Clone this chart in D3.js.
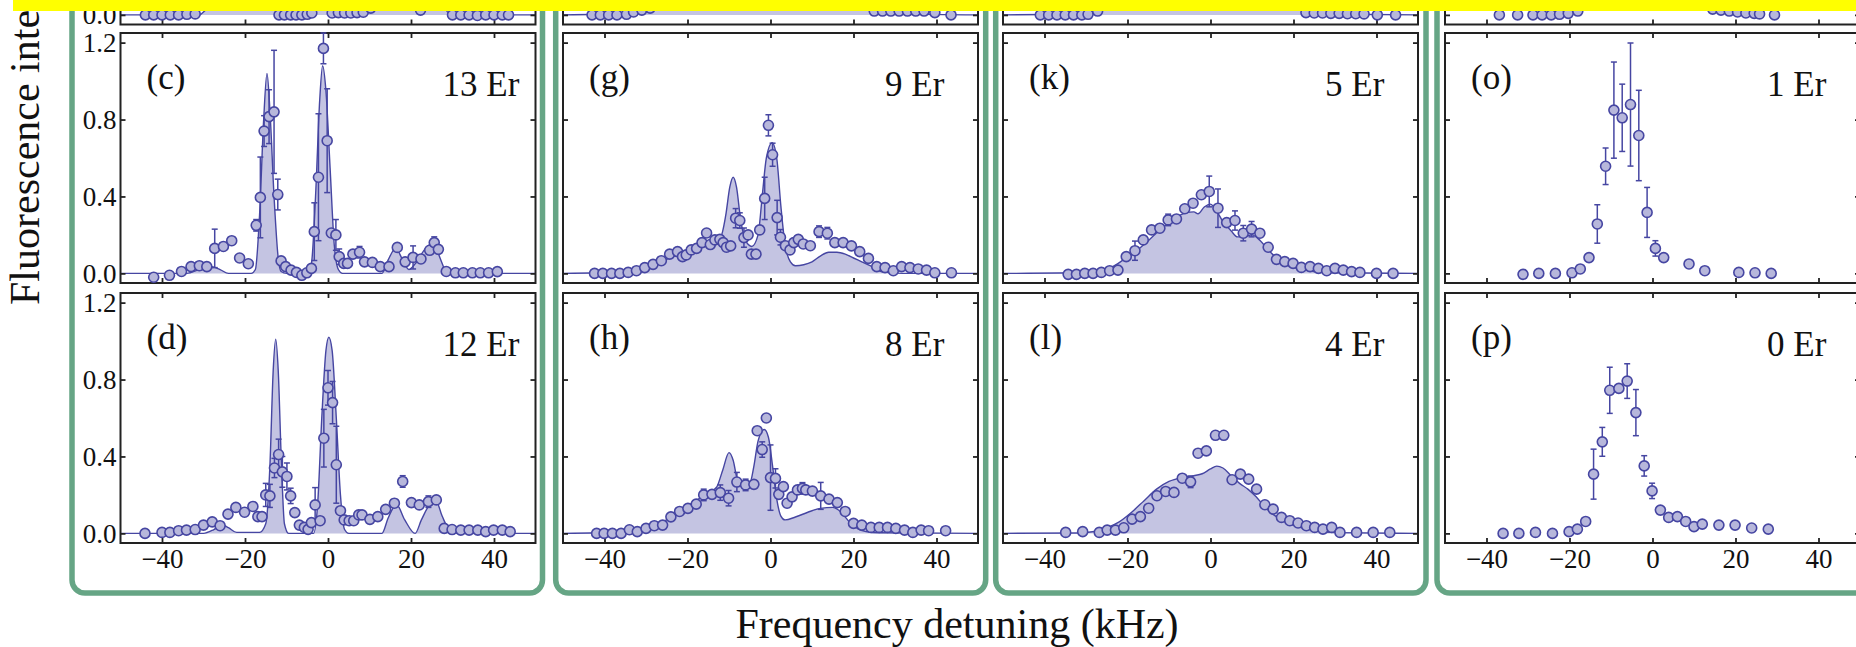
<!DOCTYPE html>
<html>
<head>
<meta charset="utf-8">
<script src="https://cdn.jsdelivr.net/npm/d3@7"></script>
<style>
  body { margin: 0; background: #fff; }
  svg { display: block; }
  text { font-family: "Liberation Serif", "Times New Roman", serif; fill: #111; }
</style>
</head>
<body>
<script>
'use strict';

// ---- data ----
const xTicks = [-40, -20, 0, 20, 40];
const yTicks = [0, 0.4, 0.8, 1.2];
const panelLetters = [['(b)', '(c)', '(d)'], ['(f)', '(g)', '(h)'], ['(j)', '(k)', '(l)'], ['(n)', '(o)', '(p)']];
const depthLabels = [['14 Er', '13 Er', '12 Er'], ['10 Er', '9 Er', '8 Er'], ['6 Er', '5 Er', '4 Er'], ['2 Er', '1 Er', '0 Er']];

// measured points: [detuning kHz, intensity, error]
const ptsB = [[-44,0,0],[-42,0,0],[-40,0,0],[-38,0,0],[-36,0,0],[-34,0.003,0],[-32,0.005,0],
  [-11.8,0,0],[-10.5,0,0],[-9,0,0],[-7.7,0,0],[-6.3,0,0],[-5,0.003,0],[-3.9,0.01,0],
  [1,0.01,0],[2.5,0.012,0],[4,0.01,0],[5.5,0.01,0],[7,0.012,0],[8.5,0.014,0],[10.3,0.035,0],[22.3,0.025,0],
  [30,0,0],[32,0,0],[34,0,0],[36,-0.003,0],[38,0,0],[40,0,0],[42,0,0],[43.5,0,0]];
const ptsC = [[-42,-0.02,0],[-38.2,-0.01,0],[-35.3,0.01,0],[-33,0.035,0],[-31,0.04,0.02],[-29.2,0.035,0],
  [-27.3,0.13,0.1],[-25.2,0.14,0],[-23.2,0.17,0],[-21.3,0.08,0],[-19.2,0.05,0],[-17.3,0.25,0.03],
  [-16.3,0.395,0.21],[-15.4,0.74,0.08],[-14.2,0.815,0.14],[-13,0.84,0.32],[-12.1,0.41,0.08],
  [-11.3,0.065,0],[-10.2,0.035,0],[-8.9,0.017,0],[-7.6,0.005,0],[-6.3,-0.01,0],[-5.1,0.003,0],[-4,0.026,0],
  [-3.3,0.217,0.15],[-2.3,0.5,0.33],[-1.1,1.17,0.08],[-0.2,0.69,0.27],[0.8,0.21,0],[1.9,0.2,0.08],
  [2.7,0.087,0.04],[3.8,0.052,0],[4.7,0.052,0],[6,0.1,0],[7.6,0.11,0.03],[8.8,0.06,0],[10.7,0.057,0],
  [12.6,0.035,0],[14.7,0.035,0],[16.7,0.135,0],[18.6,0.06,0],[20.5,0.083,0.06],[22.4,0.075,0],
  [24.5,0.12,0],[25.6,0.16,0.03],[26.6,0.125,0],[28.5,0.01,0],[30.7,0.003,0],[32.6,0.003,0],
  [34.8,0.003,0],[36.7,0.003,0],[38.7,0.003,0],[40.8,0.009,0]];
const ptsD = [[-44.1,0,0],[-40,0.005,0],[-38.1,0.005,0],[-36,0.014,0],[-34.1,0.017,0],[-32,0.02,0],
  [-30,0.043,0],[-27.9,0.06,0],[-26,0.04,0],[-24.1,0.1,0],[-22.2,0.135,0],[-20.1,0.11,0],[-18.1,0.14,0],
  [-16.9,0.087,0],[-15.9,0.087,0],[-15,0.2,0.06],[-14,0.195,0.06],[-12.9,0.34,0.05],[-11.9,0.41,0.08],
  [-11,0.32,0.08],[-9.9,0.296,0.07],[-9,0.195,0.04],[-8,0.108,0],[-6.9,0.043,0],[-5.7,0.031,0],
  [-4.8,0.021,0],[-4,0.056,0],[-3.1,0.148,0.09],[-1.9,0.066,0],[-1,0.495,0.15],[0,0.757,0.09],
  [1.1,0.68,0.11],[2,0.357,0.2],[3,0.118,0],[3.9,0.07,0],[5.1,0.066,0],[6.2,0.066,0],[7.4,0.096,0],
  [8.2,0.096,0],[10.1,0.073,0],[12,0.087,0],[13.9,0.125,0],[16,0.157,0.02],[18,0.27,0.03],
  [20.1,0.16,0],[22,0.148,0],[24.2,0.165,0.03],[26.1,0.174,0],[28,0.026,0],[29.9,0.02,0],[32,0.017,0],
  [34,0.017,0],[36.1,0.017,0],[38,0.009,0],[39.9,0.017,0],[42,0.017,0],[43.9,0.009,0]];
const ptsF = [[-43,0,0],[-41,0,0],[-39,0,0],[-37,0,0],[-34.7,0.003,0],[-33,0.015,0],[-31,0.025,0],[-29,0.035,0],
  [25,0.02,0],[27,0.02,0],[29,0.02,0],[31,0.02,0],[33,0.02,0],[35,0.02,0],[37,0.02,0],[39.6,0.012,0],[43.5,0,0]];
const ptsG = [[-42.4,0,0],[-40.4,0,0],[-38.3,0,0],[-36.3,0,0],[-34.3,0.005,0],[-32.3,0.014,0],
  [-30.3,0.03,0],[-28.3,0.047,0],[-26.3,0.066,0],[-24.3,0.1,0],[-22.4,0.113,0],[-21.2,0.087,0],
  [-20.3,0.096,0],[-19.1,0.122,0],[-17.8,0.13,0],[-16.5,0.16,0],[-15.4,0.21,0],[-14.5,0.15,0],
  [-13.4,0.174,0],[-12.2,0.177,0],[-11.4,0.16,0],[-10.6,0.136,0],[-9.6,0.143,0],[-8.4,0.287,0.05],
  [-7.4,0.275,0.04],[-6.4,0.186,0.05],[-5.4,0.2,0],[-4.6,0.1,0],[-3.5,0.1,0],[-2.6,0.226,0],
  [-1.4,0.39,0.11],[-0.5,0.77,0.055],[0.5,0.617,0.06],[1.6,0.29,0.09],[2.4,0.188,0.04],[3.6,0.144,0],
  [4.7,0.122,0],[5.6,0.16,0],[6.7,0.177,0],[7.9,0.153,0],[9.6,0.144,0],[11.7,0.217,0.03],
  [13.7,0.209,0.03],[15.5,0.16,0],[17.5,0.16,0],[19.5,0.143,0],[21.5,0.113,0],[23.6,0.078,0],
  [25.6,0.035,0],[27.6,0.03,0],[29.6,0.014,0],[31.6,0.035,0],[33.6,0.03,0],[35.6,0.023,0],
  [37.6,0.017,0],[39.6,0.003,0],[43.6,0.003,0]];
const ptsH = [[-41.9,0,0],[-40.1,0,0],[-38.1,0,0],[-36,0,0],[-34,0.019,0],[-32.1,0.009,0],[-30,0.026,0],
  [-28,0.04,0],[-26,0.043,0],[-24,0.086,0],[-21.9,0.114,0],[-19.9,0.13,0],[-17.9,0.152,0],
  [-16.1,0.2,0.03],[-14.1,0.203,0],[-12.1,0.212,0.04],[-10.1,0.183,0.04],[-8.1,0.267,0.05],
  [-6,0.252,0.03],[-4,0.255,0],[-3.2,0.534,0],[-2,0.436,0.04],[-1,0.6,0],[0,0.29,0.17],
  [1.2,0.286,0.05],[2,0.203,0],[3.1,0.243,0],[4,0.157,0],[5.2,0.19,0],[6.5,0.226,0],[7.7,0.234,0.03],
  [8.5,0.226,0],[10.1,0.22,0],[12.1,0.195,0.07],[14.1,0.178,0],[16.1,0.16,0],[18,0.114,0],
  [20,0.052,0],[22,0.043,0],[24.2,0.031,0],[26.2,0.031,0],[28.2,0.031,0],[30.2,0.026,0],
  [32.3,0.017,0],[34.3,0.005,0],[36.3,0.017,0],[38.1,0.014,0],[42.2,0.014,0]];
const ptsJ = [[-41,0,0],[-39,0,0],[-37,0,0],[-35,0,0],[-33,0,0],[-31,0,0],[-29.5,0.003,0],[-27.2,0.02,0],
  [23,0.012,0],[25,0.01,0],[27,0.01,0],[29,0.008,0],[31,0.008,0],[33,0.006,0],[35,0.006,0],[37,0.005,0],
  [40.2,0,0],[44.6,0,0]];
const ptsK = [[-34.3,-0.005,0],[-32.3,-0.005,0],[-30.3,0,0],[-28.3,0,0],[-26.3,0.005,0],[-24.3,0.014,0],
  [-22.3,0.017,0],[-20.3,0.087,0],[-18.2,0.118,0.05],[-16.2,0.174,0],[-14.2,0.226,0],[-12.2,0.235,0],
  [-10.2,0.278,0.03],[-8.2,0.283,0],[-6.2,0.336,0],[-4.2,0.365,0],[-2.2,0.409,0],[-0.3,0.426,0.08],
  [1.8,0.339,0.1],[3.9,0.264,0],[5.9,0.275,0.05],[7.9,0.209,0.04],[9.9,0.23,0.04],[11.9,0.209,0],
  [13.9,0.136,0],[15.9,0.073,0],[17.9,0.061,0],[19.9,0.052,0],[21.9,0.031,0],[24,0.035,0],
  [26,0.026,0],[28,0.014,0],[30,0.026,0],[32,0.017,0],[34,0.009,0],[36,0.005,0],[40,0,0],[44,0,0]];
const ptsL = [[-34.9,0.005,0],[-30.8,0.009,0],[-26.8,0.005,0],[-24.9,0.017,0],[-22.9,0.017,0],
  [-20.9,0.029,0],[-18.9,0.074,0],[-16.9,0.087,0],[-14.9,0.131,0],[-12.9,0.196,0],[-10.8,0.218,0],
  [-8.8,0.213,0],[-6.8,0.287,0],[-4.8,0.268,0.03],[-3,0.417,0],[-1,0.429,0],[1.2,0.51,0],[3.2,0.51,0],
  [5.2,0.279,0],[7.2,0.308,0],[9.2,0.282,0],[11.1,0.23,0],[13.1,0.149,0],[15.1,0.126,0],[17.1,0.083,0],
  [19.1,0.066,0],[21.1,0.054,0],[23.1,0.04,0],[25.1,0.031,0],[27.1,0.022,0],[29.2,0.031,0],
  [31.2,0.005,0],[35.2,0.005,0],[39.2,0.005,0],[43.2,0.005,0]];
const ptsN = [[-36.9,0,0],[-32.5,0,0],[-28.8,0,0],[-26.6,0,0],[-24.4,0,0],[-22.4,0.003,0],[-20.3,0.008,0],
  [-18,0.02,0],[14.5,0.03,0],[16.5,0.025,0],[18.5,0.02,0],[20.5,0.015,0],[22.5,0.01,0],[24.5,0.008,0],
  [25.8,0.005,0],[29.4,0,0]];
const ptsO = [[-31.2,-0.005,0],[-27.4,0,0],[-23.4,0,0],[-19.4,0.003,0],[-17.4,0.023,0],[-15.3,0.082,0],
  [-13.3,0.257,0.1],[-11.3,0.557,0.095],[-9.3,0.849,0.25],[-7.3,0.809,0.175],[-5.3,0.878,0.32],
  [-3.3,0.717,0.235],[-1.3,0.317,0.13],[0.7,0.13,0.04],[2.7,0.082,0],[8.8,0.049,0],[12.6,0.014,0],
  [20.8,0.005,0],[24.7,0.003,0],[28.6,0,0]];
const ptsP = [[-36,0,0],[-32.2,0,0],[-28.2,0.005,0],[-24.1,0,0],[-20.1,0.009,0],[-18.1,0.022,0],
  [-16.1,0.062,0],[-14.2,0.308,0.13],[-12.1,0.476,0.075],[-10.3,0.744,0.12],[-8.1,0.754,0],
  [-6.1,0.792,0.09],[-4,0.628,0.12],[-2,0.351,0.053],[-0.1,0.221,0.04],[1.9,0.121,0],[3.9,0.083,0],
  [6,0.087,0],[8,0.062,0],[10,0.035,0],[12,0.048,0],[16,0.043,0],[19.9,0.043,0],[23.9,0.028,0],[27.9,0.022,0]];

// theory curves: [detuning kHz, intensity]
const fitB = [[-50,0],[-31,0],[-29,0.03],[-19,0.03],[-17.5,0.1],[-15.5,0.9],[-13,0.2],[-11.5,0.01],[-5,0.005],
  [-3.5,0.3],[-1.5,1.0],[0.5,0.3],[2,0.02],[10,0.03],[14,0.15],[18,0.1],[22,0.04],[26,0.15],[29,0.01],[31,0],[50,0]];
const fitC = [[-50,0],[-34,0],[-31,0.02],[-28,0.035],[-26,0.02],[-24,0],[-18.5,0],[-17.5,0.02],[-16.5,0.3],
  [-15.5,0.8],[-14.7,1.04],[-14,0.85],[-13,0.4],[-12,0.08],[-11.3,0.01],[-10,0],[-5,0],[-4,0.05],[-3,0.4],
  [-2,0.9],[-1.3,1.08],[-0.5,0.95],[0.5,0.55],[1.5,0.15],[2.5,0.02],[3.5,0],[13,0],[14.5,0.07],[16.3,0.13],
  [18,0.07],[19.5,0.02],[21,0.05],[23.5,0.13],[25.5,0.16],[27,0.08],[28.5,0.01],[30,0],[50,0]];
const fitD = [[-50,0],[-30,0],[-27.5,0.02],[-25.5,0.045],[-24,0.03],[-22,0.005],[-16.5,0.005],[-15,0.05],
  [-14,0.35],[-13.2,0.85],[-12.6,1.01],[-12,0.85],[-11.2,0.35],[-10.5,0.05],[-9.5,0],[-3.5,0],[-2.5,0.15],
  [-1.5,0.6],[-0.5,0.95],[0.2,1.02],[1,0.95],[2,0.6],[3,0.2],[4,0.02],[5,0],[13,0],[14.5,0.08],[16.5,0.15],
  [18.5,0.07],[21,0],[22.5,0.07],[24.5,0.15],[26,0.17],[27.5,0.09],[29.5,0.01],[31,0],[50,0]];
const fitF = [[-50,0],[-42,0.003],[-36,0.01],[-30,0.03],[-25,0.07],[-20,0.12],[-15,0.2],[-10,0.4],[-8,0.6],
  [-5,0.3],[0,0.8],[4,0.2],[10,0.1],[20,0.08],[24,0.04],[28,0.015],[32,0.005],[50,0]];
const fitG = [[-50,0],[-42,0.003],[-36,0.01],[-30,0.03],[-26,0.065],[-22,0.1],[-18,0.14],[-14,0.17],[-12,0.19],
  [-10.8,0.3],[-9.8,0.45],[-9,0.5],[-8.2,0.45],[-7.2,0.28],[-6,0.17],[-4.5,0.14],[-3,0.2],[-2,0.4],[-1,0.6],
  [0.4,0.68],[1.5,0.6],[2.5,0.35],[3.5,0.15],[4.8,0.06],[6,0.04],[8,0.045],[10,0.06],[12,0.09],[14,0.11],
  [16,0.11],[18,0.1],[20,0.08],[22,0.06],[24,0.04],[26,0.015],[28,0.005],[32,0],[50,0]];
const fitH = [[-50,0],[-42,0.003],[-36,0.012],[-30,0.03],[-26,0.06],[-22,0.11],[-18,0.17],[-15,0.21],[-13,0.24],
  [-11.5,0.33],[-10,0.42],[-9,0.38],[-8,0.28],[-7,0.25],[-5,0.26],[-4,0.35],[-3,0.48],[-1.5,0.54],[-0.5,0.5],
  [0.5,0.35],[1.5,0.18],[2.5,0.09],[3.5,0.07],[6,0.085],[9,0.11],[12,0.13],[15,0.135],[17,0.11],[19,0.06],
  [21,0.025],[23,0.01],[26,0.003],[50,0]];
const fitJ = [[-50,0],[-32,0.003],[-28,0.015],[-24,0.05],[-20,0.12],[-14,0.3],[-6,0.45],[0,0.5],[6,0.4],
  [12,0.2],[16,0.1],[20,0.06],[24,0.025],[28,0.01],[32,0.003],[50,0]];
const fitK = [[-50,0],[-30,0.003],[-27,0.012],[-24,0.03],[-21,0.07],[-18,0.115],[-15,0.17],[-12,0.23],[-9,0.28],
  [-6,0.315],[-4,0.32],[-3,0.31],[-1.5,0.345],[0,0.36],[1,0.34],[3,0.27],[5,0.22],[6.5,0.19],[8,0.19],[10,0.2],
  [12,0.17],[14,0.12],[16,0.08],[18,0.05],[21,0.025],[25,0.01],[30,0.003],[50,0]];
const fitL = [[-50,0],[-32,0.002],[-28,0.01],[-25,0.03],[-22,0.06],[-19,0.11],[-16,0.17],[-13,0.23],[-10,0.27],
  [-7,0.29],[-4,0.3],[-2,0.31],[0,0.335],[1.5,0.35],[3,0.34],[5,0.3],[7,0.26],[9,0.23],[11,0.19],[13,0.14],
  [15,0.1],[18,0.06],[21,0.035],[25,0.015],[30,0.004],[50,0]];

const panelPts = [[ptsB, ptsC, ptsD], [ptsF, ptsG, ptsH], [ptsJ, ptsK, ptsL], [ptsN, ptsO, ptsP]];
const panelFits = [[fitB, fitC, fitD], [fitF, fitG, fitH], [fitJ, fitK, fitL], [null, null, null]];

// ---- layout ----
const W = 1856, H = 647;
const frameLeft = [120.5, 563, 1003, 1445];
const frameW = 415, frameH = 250;
const rowTop = [-225.5, 33, 293];
const boxes = [[72, 542.5], [555.7, 985.7], [995.7, 1426], [1437, 1900]];
const boxBottom = 593;

const green = '#66a585';
const dark = '#4646a2';
const ptFill = '#b7b7db';
const areaFill = '#c4c4e2';

const svg = d3.select('body').append('svg')
    .attr('width', W)
    .attr('height', H);

// green rounded group boxes
svg.selectAll('rect.box')
    .data(boxes)
    .enter()
    .append('rect')
    .attr('class', 'box')
    .attr('x', d => d[0])
    .attr('y', -300)
    .attr('width', d => d[1] - d[0])
    .attr('height', boxBottom + 300)
    .attr('rx', 13)
    .attr('fill', 'none')
    .attr('stroke', green)
    .attr('stroke-width', 5.5);

frameLeft.forEach((left, gi) => {
    rowTop.forEach((top, ri) => {
        drawPanel(gi, ri, left, top);
    });
});

function drawPanel(gi, ri, left, top) {
    const x = d3.scaleLinear().domain([-50, 50]).range([left, left + frameW]);
    const y = d3.scaleLinear().domain([-0.05, 1.25]).range([top + frameH, top]);
    const g = svg.append('g');
    const partial = ri === 0; // the top row is cut by the picture edge

    const fit = panelFits[gi][ri];
    if (fit) {
        const area = d3.area()
            .x(d => x(d[0]))
            .y0(y(0))
            .y1(d => y(d[1]))
            .curve(d3.curveMonotoneX);
        const line = d3.line()
            .x(d => x(d[0]))
            .y(d => y(d[1]))
            .curve(d3.curveMonotoneX);
        g.append('path').datum(fit)
            .attr('d', area)
            .attr('fill', areaFill);
        g.append('path').datum(fit)
            .attr('d', line)
            .attr('fill', 'none')
            .attr('stroke', dark)
            .attr('stroke-width', 1.4);
    }

    // frame + inward ticks
    g.append('rect')
        .attr('x', left).attr('y', top)
        .attr('width', frameW).attr('height', frameH)
        .attr('fill', 'none')
        .attr('stroke', '#222')
        .attr('stroke-width', 2);

    const fmtX = ri === 2 ? d3.format('d') : () => '';
    const fmtY = gi !== 0 ? () => ''
        : (partial ? (d => d === 0 ? '0.0' : '') : d3.format('.1f'));
    g.append('g')
        .attr('transform', `translate(0,${top + frameH})`)
        .call(d3.axisBottom(x).tickValues(xTicks).tickSize(-5).tickSizeOuter(0).tickPadding(6).tickFormat(fmtX));
    g.append('g')
        .attr('transform', `translate(0,${top})`)
        .call(d3.axisTop(x).tickValues(xTicks).tickSize(-5).tickSizeOuter(0).tickFormat(''));
    g.append('g')
        .attr('transform', `translate(${left},0)`)
        .call(d3.axisLeft(y).tickValues(yTicks).tickSize(-5).tickSizeOuter(0).tickPadding(4).tickFormat(fmtY));
    g.append('g')
        .attr('transform', `translate(${left + frameW},0)`)
        .call(d3.axisRight(y).tickValues(yTicks).tickSize(-5).tickSizeOuter(0).tickFormat(''));

    g.selectAll('.domain').remove();
    g.selectAll('.tick line').attr('stroke', '#222').attr('stroke-width', 1.8);
    g.selectAll('.tick text').filter(function() { return this.textContent === ''; }).remove();
    g.selectAll('.tick text')
        .attr('fill', '#111')
        .style('font-family', '"Liberation Serif", serif')
        .style('font-size', '27px');

    // error bars
    const pts = panelPts[gi][ri];
    const eb = g.selectAll('g.err')
        .data(pts.filter(d => d[2] > 0))
        .enter()
        .append('g')
        .attr('stroke', dark)
        .attr('stroke-width', 1.5);
    eb.append('line')
        .attr('x1', d => x(d[0])).attr('x2', d => x(d[0]))
        .attr('y1', d => y(d[1] - d[2])).attr('y2', d => y(d[1] + d[2]));
    eb.append('line')
        .attr('x1', d => x(d[0]) - 3).attr('x2', d => x(d[0]) + 3)
        .attr('y1', d => y(d[1] + d[2])).attr('y2', d => y(d[1] + d[2]));
    eb.append('line')
        .attr('x1', d => x(d[0]) - 3).attr('x2', d => x(d[0]) + 3)
        .attr('y1', d => y(d[1] - d[2])).attr('y2', d => y(d[1] - d[2]));

    g.selectAll('circle')
        .data(pts)
        .enter()
        .append('circle')
        .attr('cx', d => x(d[0]))
        .attr('cy', d => y(d[1]))
        .attr('r', 5)
        .attr('fill', ptFill)
        .attr('stroke', dark)
        .attr('stroke-width', 1.6);

    // panel texts (the top row ones lie outside the picture)
    if (!partial) {
        g.append('text')
            .attr('x', left + 26)
            .attr('y', top + 56)
            .style('font-size', '35px')
            .text(panelLetters[gi][ri]);
        g.append('text')
            .attr('x', left + 322)
            .attr('y', top + 63)
            .style('font-size', '35px')
            .text(depthLabels[gi][ri]);
    }
}

// axis titles
svg.append('text')
    .attr('x', 957)
    .attr('y', 638)
    .attr('text-anchor', 'middle')
    .style('font-size', '42px')
    .text('Frequency detuning (kHz)');

svg.append('text')
    .attr('transform', 'translate(39,305) rotate(-90)')
    .attr('text-anchor', 'start')
    .style('font-size', '42px')
    .text('Fluorescence intensity (arb. units)');

// yellow band across the top
svg.append('rect')
    .attr('x', 13).attr('y', 0)
    .attr('width', W - 13).attr('height', 11)
    .attr('fill', '#ffff00');
</script>
</body>
</html>
